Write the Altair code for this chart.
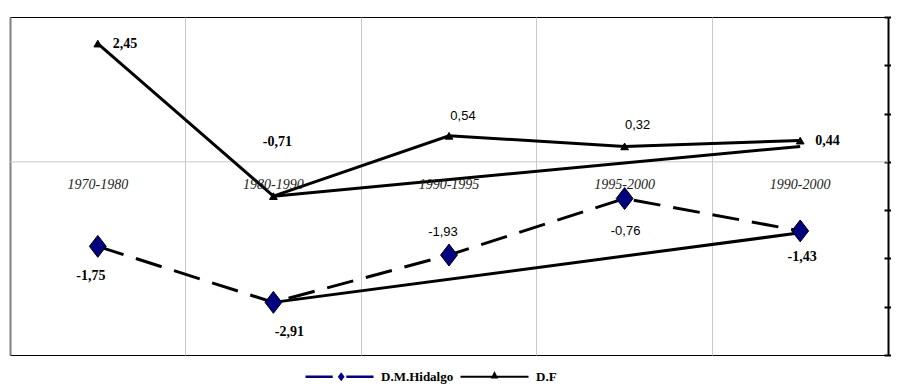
import altair as alt
import pandas as pd

# ---------------- data ----------------
categories = ["1970-1980", "1980-1990", "1990-1995", "1995-2000", "1990-2000"]
series_names = ["D.M.Hidalgo", "D.F"]
hidalgo_values = [-1.75, -2.91, -1.93, -0.76, -1.43]
df_values = [2.45, -0.71, 0.54, 0.32, 0.44]
hidalgo_labels = ["-1,75", "-2,91", "-1,93", "-0,76", "-1,43"]
df_labels = ["2,45", "-0,71", "0,54", "0,32", "0,44"]
# second (return) traces drawn from 1990-2000 back to 1980-1990
link_categories = ["1980-1990", "1990-2000"]
hidalgo_link = [-2.91, -1.47]
df_link = [-0.71, 0.32]
y_ticks = [-4, -3, -2, -1, 0, 1, 2, 3]
zero_line = [0]

main = pd.DataFrame({
    "category": categories * 2,
    "series": [series_names[0]] * 5 + [series_names[1]] * 5,
    "value": hidalgo_values + df_values,
    "label": hidalgo_labels + df_labels,
})
links = pd.DataFrame({
    "category": link_categories * 2,
    "series": [series_names[0]] * 2 + [series_names[1]] * 2,
    "value": hidalgo_link + df_link,
})
zero_df = pd.DataFrame({"v": zero_line})
cat_df = pd.DataFrame({"category": categories})

# ---------------- styling ----------------
PLOT_W, PLOT_H = 878, 338
xscale = alt.Scale(type="band", domain=categories, paddingInner=0, paddingOuter=0)
yscale = alt.Scale(domain=[-4, 3], nice=False, zero=False)

first = categories[0]
x_axis = alt.Axis(
    orient="bottom", bandPosition=0, grid=True,
    gridColor={"condition": {"test": f"datum.value === '{first}'", "value": "#808080"}, "value": "#c8c8c8"},
    gridWidth={"condition": {"test": f"datum.value === '{first}'", "value": 2}, "value": 1},
    domain=False, ticks=False, labels=False, title=None,
)
y_axis_main = alt.Axis(
    orient="right", values=y_ticks, grid=False, title=None,
    domainColor="black", domainWidth=2, tickColor="black", tickWidth=2, tickSize=4,
    labelPadding=5, labelFont="Liberation Serif", labelFontWeight="bold", labelFontSize=12,
    labelColor="black", format="d",
)
y_axis_inner = alt.Axis(
    orient="right", values=y_ticks, grid=False, title=None, offset=-4,
    domain=False, labels=False, tickColor="black", tickWidth=2, tickSize=4,
)

def X(**kw):
    return alt.X("category:N", sort=categories, scale=xscale, **kw)

def Y(**kw):
    return alt.Y("value:Q", scale=yscale, **kw)

zero_rule = alt.Chart(zero_df).mark_rule(color="#c8c8c8", strokeWidth=1).encode(
    y=alt.Y("v:Q", scale=yscale, axis=y_axis_inner)
)

h_line = alt.Chart(main).transform_filter(alt.datum.series == series_names[0]).mark_line(
    color="black", strokeWidth=3, strokeDash=[27, 13]
).encode(x=X(axis=x_axis), y=Y(axis=y_axis_main))

df_line = alt.Chart(main).transform_filter(alt.datum.series == series_names[1]).mark_line(
    color="black", strokeWidth=3
).encode(x=X(), y=Y(axis=None))

link_lines = alt.Chart(links).mark_line(color="black", strokeWidth=3).encode(
    x=X(), y=Y(axis=None), detail="series:N"
)

diamond = "M0,-1L0.77,0L0,1L-0.77,0Z"
h_points = alt.Chart(main).transform_filter(alt.datum.series == series_names[0]).mark_point(
    shape=diamond, size=480, filled=True, fill="#000080", stroke="black", strokeWidth=1, opacity=1
).encode(x=X(), y=Y(axis=None))

df_points = alt.Chart(main).transform_filter(alt.datum.series == series_names[1]).mark_point(
    shape="triangle-up", size=60, filled=True, fill="black", stroke="black", strokeWidth=1, opacity=1
).encode(x=X(), y=Y(axis=None))

cat_text = alt.Chart(cat_df).mark_text(
    font="Liberation Serif", fontStyle="italic", fontSize=14, color="#222222", dy=23
).encode(x=X(), y=alt.Y(datum=0, scale=yscale, axis=None), text="category:N")

# label placement (style only)
label_style = {
    (series_names[1], "1970-1980"): ("left", 15, 0, True),
    (series_names[1], "1980-1990"): ("center", 4, -54, True),
    (series_names[1], "1990-1995"): ("center", 14, -20, False),
    (series_names[1], "1995-2000"): ("center", 13, -21, False),
    (series_names[1], "1990-2000"): ("left", 15, 0, True),
    (series_names[0], "1970-1980"): ("center", -7, 30, True),
    (series_names[0], "1980-1990"): ("center", 16, 30, True),
    (series_names[0], "1990-1995"): ("center", -6, -23, False),
    (series_names[0], "1995-2000"): ("center", 1, 32, False),
    (series_names[0], "1990-2000"): ("center", 2, 26, True),
}
label_layers = []
for (s, c), (al, dx, dy, bold) in label_style.items():
    if bold:
        mk = dict(font="Liberation Serif", fontWeight="bold", fontSize=14)
    else:
        mk = dict(font="Liberation Sans", fontWeight="normal", fontSize=13)
    label_layers.append(
        alt.Chart(main)
        .transform_filter((alt.datum.series == s) & (alt.datum.category == c))
        .mark_text(align=al, baseline="middle", dx=dx, dy=dy, color="black", **mk)
        .encode(x=X(), y=Y(axis=None), text="label:N")
    )

# legend symbols: line segment with marker in the middle
h_sym = ("M-1,-0.035L-0.2,-0.035L-0.2,0.035L-1,0.035Z "
         "M0.05,-0.13L0.15,0L0.05,0.13L-0.05,0Z "
         "M0.2,-0.035L1,-0.035L1,0.035L0.2,0.035Z")
df_sym = ("M-1,-0.03L1,-0.03L1,0.03L-1,0.03Z "
          "M0,-0.17L0.11,0.05L-0.11,0.05Z")
leg = dict(
    title=None, orient="none", legendX=295, legendY=325, direction="horizontal",
    symbolSize=4624, symbolStrokeColor="black", symbolStrokeWidth=1, symbolOpacity=1,
    labelFont="Liberation Serif", labelFontWeight="bold", labelFontSize=13,
    labelColor="black", labelOffset=7, columnPadding=4, padding=0,
)
# legend-only layer: no rows survive the filter, the legend comes from the scale domain
legend_layer = alt.Chart(main).transform_filter("false").mark_point(
    filled=True, opacity=1, stroke="black", strokeWidth=1
).encode(
    x=X(), y=Y(axis=None),
    shape=alt.Shape("series:N", scale=alt.Scale(domain=series_names, range=[h_sym, df_sym]),
                    legend=alt.Legend(**leg)),
    fill=alt.Fill("series:N", scale=alt.Scale(domain=series_names, range=["#000080", "black"]),
                  legend=alt.Legend(**leg)),
)

chart = alt.layer(
    zero_rule, h_line, df_line, link_lines, h_points, df_points, cat_text,
    *label_layers, legend_layer
).resolve_axis(y="independent").properties(
    width=PLOT_W, height=PLOT_H,
    autosize=alt.AutoSizeParams(type="none"),
    padding={"left": 2, "top": 9, "right": 3, "bottom": 29},
).configure_view(stroke="black", strokeWidth=1)

chart.save("out.html", embed_options={"renderer": "svg", "actions": False})
